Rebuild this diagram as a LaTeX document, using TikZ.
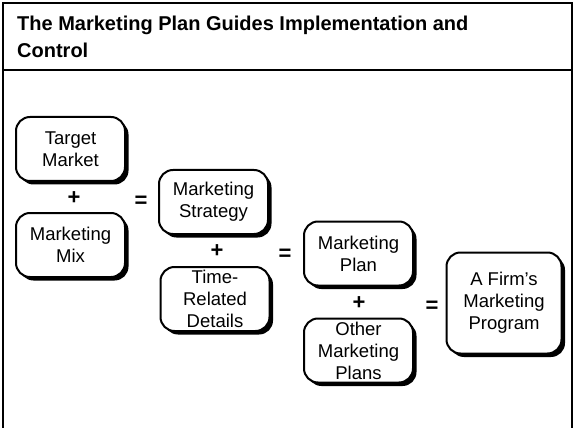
\documentclass[tikz,border=0pt]{standalone}
\usepackage{fontspec}
\setmainfont{Liberation Sans}
\usetikzlibrary{shadows}

\begin{document}
\begin{tikzpicture}[x=1pt, y=-1pt,
  card/.style={draw, line width=2pt, rounded corners=14pt, fill=white, align=center,
    inner sep=0pt, minimum width=109pt, minimum height=64pt,
    font=\fontsize{18.5}{22}\selectfont,
    drop shadow={opacity=1, fill=black, shadow xshift=3.5pt, shadow yshift=-3.5pt}},
  sign/.style={inner sep=0pt, font=\fontsize{22}{22}\selectfont\bfseries}]
\useasboundingbox (0,0) rectangle (574,428);
% frame and title bar
\draw[line width=2pt] (3,428) -- (3,3) -- (572,3) -- (572,428);
\draw[line width=2pt] (3,70) -- (572,70);
\node[anchor=north west, align=left, inner sep=0pt, font=\fontsize{20}{27}\selectfont\bfseries] (title) at (17,16) {The Marketing Plan Guides Implementation and\\Control};

\node[card] (target) at (70.5,149) {Target\\Market};
\node[card] (mix) at (70.5,245) {Marketing\\Mix};
\node[card] (strategy) at (213.5,202) {Marketing\\Strategy};
\node[card] (details) at (215,299) {Time-\\Related\\Details};
\node[card] (plan) at (358.5,253.5) {Marketing\\Plan};
\node[card] (others) at (358.5,350.5) {Other\\Marketing\\Plans};
\node[card, minimum width=115pt, minimum height=101pt] (firm) at (504,303) {A Firm’s\\Marketing\\Program};

% plus and equals signs
\foreach \n/\s/\x/\y in {plusA/+/74/198, eqA/=/141/202, plusB/+/217/251, eqB/=/285/255, plusC/+/359/303, eqC/=/432/307}{
\node[sign] (\n) at (\x,\y) {\s};
}
\end{tikzpicture}
\end{document}
